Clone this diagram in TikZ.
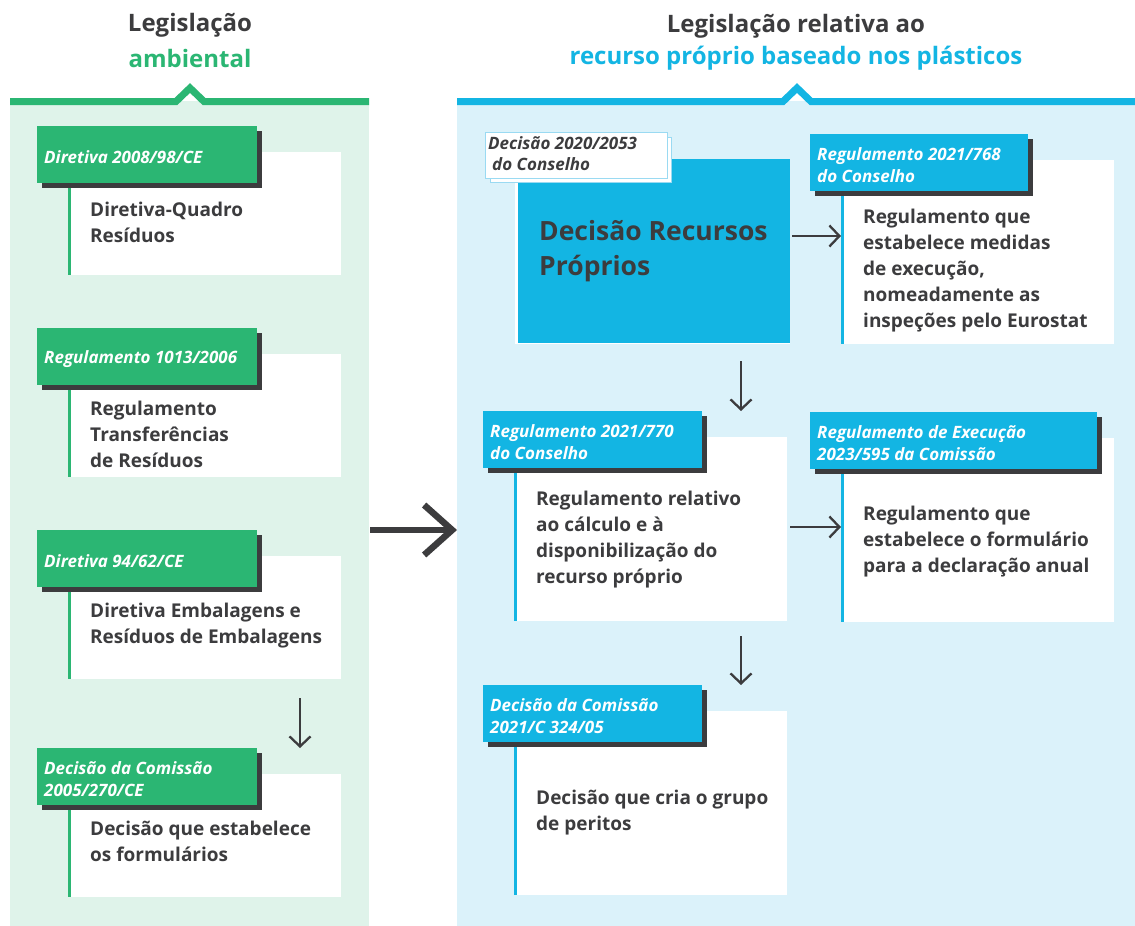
\documentclass[tikz,border=0pt]{standalone}
\usepackage{fontspec}
\setmainfont{Open Sans}
\usetikzlibrary{arrows.meta,calc}
\definecolor{gr}{HTML}{2BB673}
\definecolor{grbg}{HTML}{DFF3EA}
\definecolor{bl}{HTML}{13B5E3}
\definecolor{blbg}{HTML}{DBF2FA}
\definecolor{dk}{HTML}{3C3C3E}
\definecolor{blborder}{HTML}{9ADAF2}
\tikzset{
  wbox/.style={anchor=north west, fill=white, inner sep=0, minimum width=273pt},
  shbox/.style={anchor=north west, fill=dk, inner sep=0, minimum height=57pt},
  labbox/.style={anchor=north west, inner sep=0, minimum height=57pt},
  labtxt/.style={anchor=west, inner sep=0, text=white, align=left,
    font=\fontsize{17}{22}\selectfont\bfseries\itshape},
  bodytxt/.style={anchor=west, inner sep=0, text=dk, align=left,
    font=\fontsize{19}{26}\selectfont\bfseries},
  titletxt/.style={inner sep=0, font=\fontsize{24}{30}\selectfont\bfseries},
  arr/.style={draw=dk, line width=2.3pt, -{Straight Barb[length=10pt,width=21pt,line width=2.3pt]}},
  bigarr/.style={draw=dk, line width=6.5pt, -{Straight Barb[length=28pt,width=50pt,line width=6.5pt]}}
}
% #1 name, #2 x, #3 y, #4 label width, #5 white height, #6 colour, #7 label text, #8 body y, #9 body text
\newcommand\mycard[9]{%
  \node[wbox, minimum height=#5] (#1b) at ({#2+31},{#3+26}) {};
  \node[shbox, minimum width=#4] (#1s) at ({#2+5},{#3+5}) {};
  \node[labbox, fill=#6, minimum width=#4] (#1l) at (#2,#3) {};
  \draw[#6, line width=2.5pt] ($(#1b.north west|-#1s.south)+(1.25,0)$) -- ($(#1b.south west)+(1.25,0)$);
  \node[labtxt] (#1t) at ({#2+7},{#3+31}) {#7};
  \node[bodytxt] (#1x) at ({#2+53},#8) {#9};
}
\begin{document}
\begin{tikzpicture}[x=1pt,y=-1pt]
\useasboundingbox (0,0) rectangle (1135,926);
\fill[white] (0,0) rectangle (1135,926);
% panels
\fill[grbg] (10,101) rectangle (369,926);
\fill[blbg] (457,101) rectangle (1135,926);
\draw[gr, line width=7pt, miter limit=10] (10,101.5) -- (176,101.5) -- (190,88) -- (204,101.5) -- (369,101.5);
\draw[bl, line width=7pt, miter limit=10] (457,101.5) -- (783,101.5) -- (797,88) -- (811,101.5) -- (1135,101.5);
% titles
\node[titletxt, text=dk] (t1) at (190,25) {Legislação};
\node[titletxt, text=gr] (t2) at (190,58) {ambiental};
\node[titletxt, text=dk] (t3) at (796,26) {Legislação relativa ao};
\node[titletxt, text=bl] (t4) at (796,58) {recurso próprio baseado nos plásticos};
% left cards
\mycard{la}{37}{126}{220pt}{123pt}{gr}{Diretiva 2008/98/CE}{222}{Diretiva-Quadro\\Resíduos}
\mycard{lb}{37}{328}{220pt}{123pt}{gr}{Regulamento 1013/2006}{434}{Regulamento\\Transferências\\de Resíduos}
\mycard{lc}{37}{530}{220pt}{123pt}{gr}{Diretiva 94/62/CE}{626}{Diretiva Embalagens e\\Resíduos de Embalagens}
\mycard{ld}{37}{748}{220pt}{123pt}{gr}{Decisão da Comissão\\2005/270/CE}{841.5}{Decisão que estabelece\\os formulários}
% right: decision block
\node[anchor=north west, fill=white, inner sep=0, minimum width=275pt, minimum height=185pt] (decw) at (515,159) {};
\node[anchor=north west, fill=bl, inner sep=0, minimum width=272pt, minimum height=184pt] (dec) at (518,159) {};
\node[anchor=west, inner sep=0, text=dk, align=left, font=\fontsize{26.5}{35}\selectfont\bfseries] (dect) at (539,251.5) {Decisão Recursos\\Próprios};
\node[anchor=north west, fill=white, draw=blborder, line width=1pt, inner sep=0, minimum width=181pt, minimum height=45pt] (dlb) at (490,137) {};
\node[anchor=north west, fill=white, draw=blborder, line width=1pt, inner sep=0, minimum width=182pt, minimum height=46pt] (dla) at (485,132) {};
\node[anchor=west, inner sep=0, text=dk, align=left, font=\fontsize{17}{21}\selectfont\bfseries\itshape] (dlt) at (488,154) {Decisão 2020/2053\\\hspace*{4pt}do Conselho};
% right cards
\mycard{ra}{810}{134}{218pt}{184pt}{bl}{Regulamento 2021/768\\do Conselho}{271}{Regulamento que\\estabelece medidas\\de execução,\\nomeadamente as\\inspeções pelo Eurostat}
\mycard{rb}{483}{411}{219pt}{184pt}{bl}{Regulamento 2021/770\\do Conselho}{540}{Regulamento relativo\\ao cálculo e à\\disponibilização do\\recurso próprio}
\mycard{rc}{810}{412}{287pt}{184pt}{bl}{Regulamento de Execução\\2023/595 da Comissão}{541.5}{Regulamento que\\estabelece o formulário\\para a declaração anual}
\mycard{rd}{483}{685}{219pt}{184pt}{bl}{Decisão da Comissão\\2021/C 324/05}{813}{Decisão que cria o grupo\\de peritos}
% arrows
\coordinate (a1) at (792,236);
\draw[arr] (a1) -- (a1 -| rab.west);
\coordinate (a2) at (790,527);
\draw[arr] (a2) -- (a2 -| rcb.west);
\coordinate (a3) at (741,361);
\draw[arr] (a3) -- (a3 |- rbl.north);
\coordinate (a4) at (741,636);
\draw[arr] (a4) -- (a4 |- rdl.north);
\coordinate (a5) at (300,698);
\draw[arr] (a5) -- (a5 |- ldl.north);
\coordinate (a6) at (370,530);
\draw[bigarr] (a6) -- (457,530);
\end{tikzpicture}
\end{document}
